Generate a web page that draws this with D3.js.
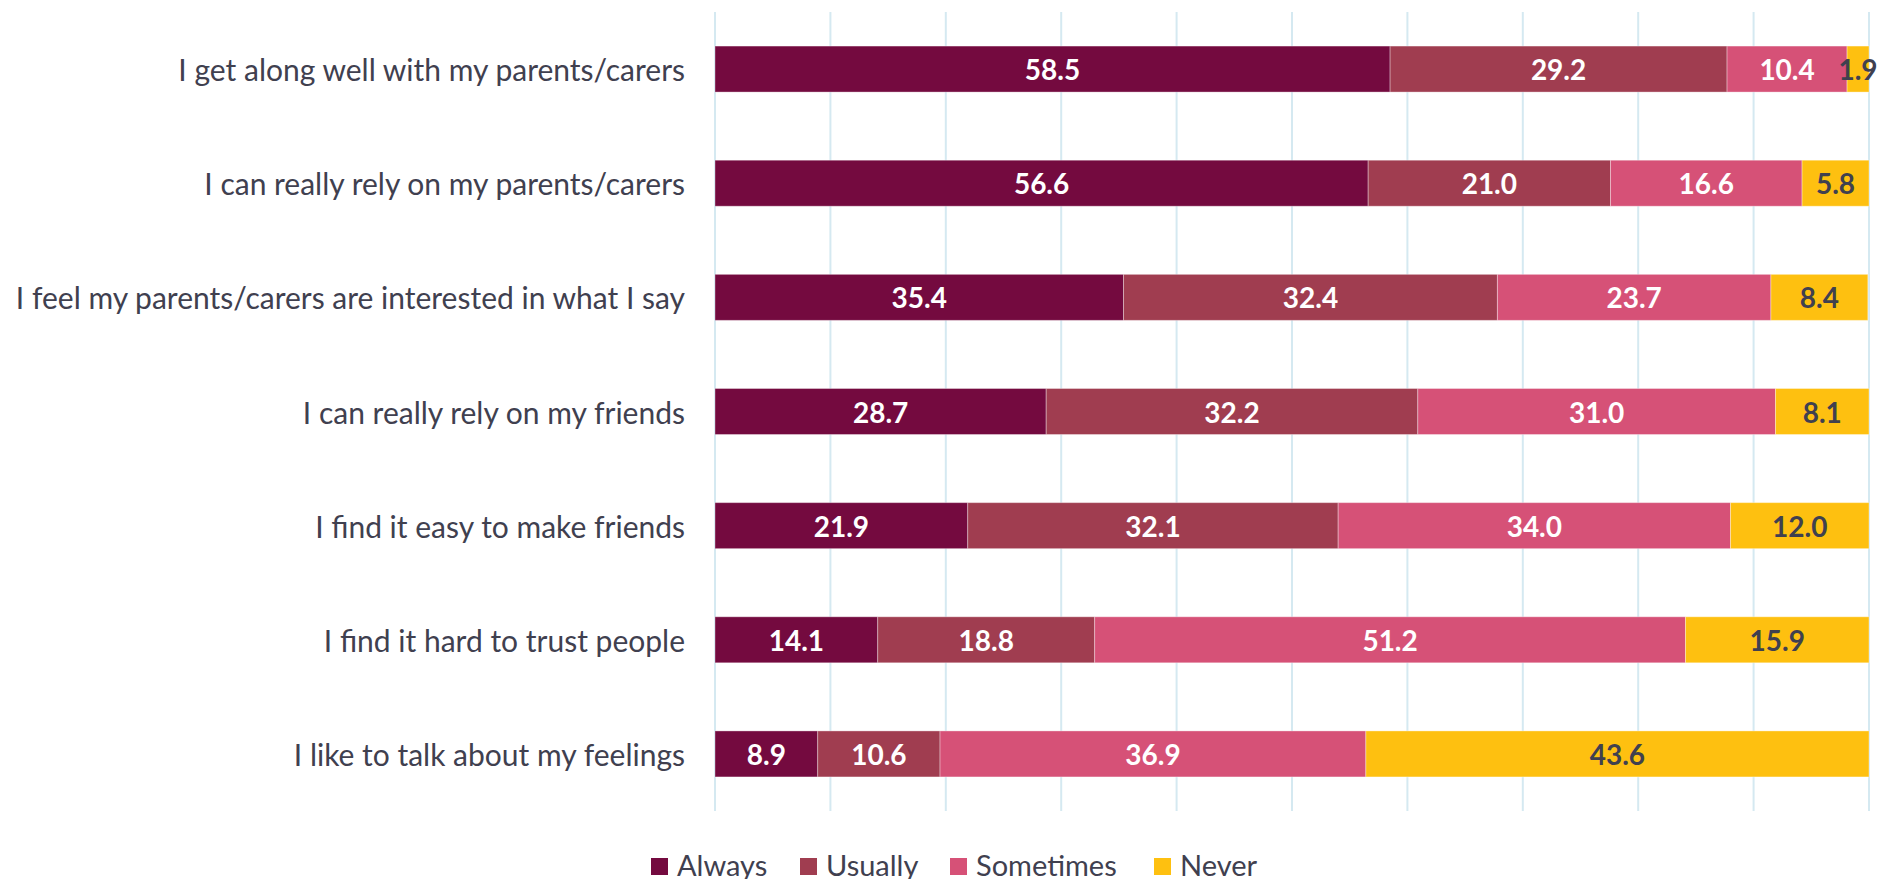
<!DOCTYPE html>
<html>
<head>
<meta charset="utf-8">
<script src="https://cdn.jsdelivr.net/npm/d3@7"></script>
<style>
    html, body { margin: 0; padding: 0; background: #fff; }
    #canvas { display: block; }
</style>
</head>
<body>
<svg id="canvas" width="1879" height="879"></svg>
<script>

var categories = [
    "I get along well with my parents/carers",
    "I can really rely on my parents/carers",
    "I feel my parents/carers are interested in what I say",
    "I can really rely on my friends",
    "I find it easy to make friends",
    "I find it hard to trust people",
    "I like to talk about my feelings"
];

var seriesNames = ["Always", "Usually", "Sometimes", "Never"];

var always    = [58.5, 56.6, 35.4, 28.7, 21.9, 14.1, 8.9];
var usually   = [29.2, 21.0, 32.4, 32.2, 32.1, 18.8, 10.6];
var sometimes = [10.4, 16.6, 23.7, 31.0, 34.0, 51.2, 36.9];
var never     = [1.9, 5.8, 8.4, 8.1, 12.0, 15.9, 43.6];

var gridTicks = [0, 10, 20, 30, 40, 50, 60, 70, 80, 90, 100];

var colors = ["#740a3f", "#a03d50", "#d65177", "#fec010"];
var labelColors = ["#ffffff", "#ffffff", "#ffffff", "#40404f"];

var rows = categories.map(function(c, i) {
    return { cat: c, Always: always[i], Usually: usually[i], Sometimes: sometimes[i], Never: never[i] };
});

var svg = d3.select('#canvas');

var plotLeft = 715, plotRight = 1869, plotTop = 12, plotBottom = 811;

var x = d3.scaleLinear()
    .domain([0, 100])
    .range([plotLeft, plotRight]);

var y = d3.scaleBand()
    .domain(categories)
    .range([plotTop, plotBottom])
    .paddingInner(0.597)
    .paddingOuter(0.2985);

var color = d3.scaleOrdinal()
    .domain(seriesNames)
    .range(colors);

// vertical gridlines
svg.append('g')
    .selectAll('line')
    .data(gridTicks)
    .enter()
    .append('line')
    .attr('x1', function(d) { return x(d); })
    .attr('x2', function(d) { return x(d); })
    .attr('y1', plotTop)
    .attr('y2', plotBottom)
    .style('stroke', '#d5e9f1')
    .style('stroke-width', 2);

var stacked = d3.stack().keys(seriesNames)(rows);

var layers = svg.append('g')
    .selectAll('g')
    .data(stacked)
    .enter()
    .append('g')
    .attr('fill', function(d) { return color(d.key); });

layers.selectAll('rect')
    .data(function(d) { return d; })
    .enter()
    .append('rect')
    .attr('x', function(d) { return x(d[0]); })
    .attr('width', function(d) { return x(d[1]) - x(d[0]); })
    .attr('y', function(d) { return y(d.data.cat); })
    .attr('height', y.bandwidth())
    .style('stroke', '#ffffff')
    .style('stroke-opacity', 0.35)
    .style('stroke-width', 1);

// value labels
svg.append('g')
    .selectAll('g')
    .data(stacked)
    .enter()
    .append('g')
    .attr('fill', function(d, i) { return labelColors[i]; })
    .selectAll('text')
    .data(function(d) { return d; })
    .enter()
    .append('text')
    .attr('x', function(d) { return (x(d[0]) + x(d[1])) / 2; })
    .attr('y', function(d) { return y(d.data.cat) + y.bandwidth() / 2; })
    .attr('text-anchor', 'middle')
    .attr('dominant-baseline', 'central')
    .style('font-family', 'Lato, "Open Sans", sans-serif')
    .style('font-weight', 'bold')
    .style('font-size', '28px')
    .text(function(d) { return (d[1] - d[0]).toFixed(1); });

// category labels
svg.append('g')
    .selectAll('text')
    .data(categories)
    .enter()
    .append('text')
    .attr('x', plotLeft - 30)
    .attr('y', function(d) { return y(d) + y.bandwidth() / 2; })
    .attr('text-anchor', 'end')
    .attr('dominant-baseline', 'central')
    .style('font-family', 'Lato, "Open Sans", sans-serif')
    .style('font-size', '30px')
    .style('fill', '#40404f')
    .text(function(d) { return d; });

// legend
var legendX = [651, 800, 950, 1154];

var legend = svg.append('g')
    .selectAll('g')
    .data(seriesNames)
    .enter()
    .append('g')
    .attr('transform', function(d, i) { return 'translate(' + legendX[i] + ',858)'; });

legend.append('rect')
    .attr('width', 17)
    .attr('height', 17)
    .attr('fill', function(d) { return color(d); });

legend.append('text')
    .attr('x', 26)
    .attr('y', 18)
    .style('font-family', 'Lato, "Open Sans", sans-serif')
    .style('font-size', '29px')
    .style('fill', '#40404f')
    .text(function(d) { return d; });

</script>
</body>
</html>
